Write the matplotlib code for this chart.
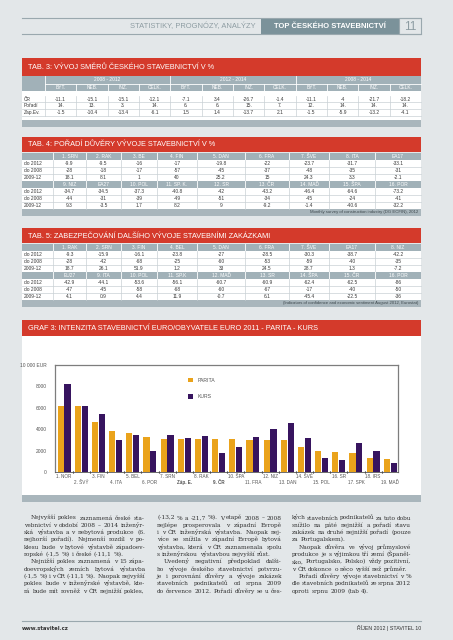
import matplotlib
matplotlib.use('Agg')
import matplotlib.pyplot as plt
from matplotlib.patches import Rectangle
from matplotlib.transforms import blended_transform_factory

W, H, DPI = 453, 640, 100

# ---------------- data ----------------
tab3_title = 'TAB. 3: VÝVOJ SMĚRŮ ČESKÉHO STAVEBNICTVÍ V %'
tab3_periods = ['2008 - 2012', '2012 - 2014', '2008 - 2014']
tab3_cols = ['BYT.', 'NEB.', 'INŽ.', 'CELK.']
tab3_rows = ['ČR', 'Pořadí', 'Zap.Ev.']
tab3_cr = [-11.1, -15.1, -15.1, -12.1, -7.1, 3.4, -26.7, -1.4, -11.1, -4, -21.7, -18.2]
tab3_poradi = [14, 13, 3, 14, 6, 6, 15, 7, 12, 14, 14, 14]
tab3_zapev = [-1.5, -10.4, -13.4, -6.1, 1.5, 1.4, -13.7, 2.1, -1.5, -5.9, -13.2, -4.1]

tab4_title = 'TAB. 4: POŘADÍ DŮVĚRY VÝVOJE STAVEBNICTVÍ V %'
tab4_head1 = ['1. SRN', '2. RAK', '3. BE', '4. FIN', '5. DAN', '6. FRA', '7. ŠVE', '8. ITA', 'EA17']
tab4_do2012_a = [-9.9, -9.5, -16, -17, -19.8, -22, -23.7, -31.7, -33.1]
tab4_do2008_a = [-28, -18, -17, -57, -45, -37, -48, -35, -31]
tab4_diff_a = [18.1, 8.1, 1, 40, 25.2, 15, 24.3, 3.3, -2.1]
tab4_head2 = ['9. NIZ', 'EA27', '10. POL', '11. SP. K.', '12. SR', '13. ČR', '14. MAĎ', '15. ŠPA', '16. POR']
tab4_do2012_b = [-34.7, -34.5, -37.3, -40.8, -42, -43.2, -46.4, -64.6, -73.2]
tab4_do2008_b = [-44, -31, -39, -49, -51, -34, -45, -24, -41]
tab4_diff_b = [9.3, -3.5, 1.7, 8.2, 9, -9.2, -1.4, -40.6, -32.2]
tab4_source = 'Monthly survey of construction industry (DG ECFIN), 2012'

tab5_title = 'TAB. 5: ZABEZPEČOVÁNÍ DALŠÍHO VÝVOJE STAVEBNÍMI ZAKÁZKAMI'
tab5_head1 = ['1. RAK', '2. SRN', '3. FIN', '4. BEL', '5. DAN', '6. FRA', '7. ŠVE', 'EA17', '8. NIZ']
tab5_do2012_a = [-9.3, -15.9, -16.1, -23.8, -27, -28.5, -30.3, -38.7, -42.2]
tab5_do2008_a = [-28, -42, -68, -25, -60, -53, -59, -40, -35]
tab5_diff_a = [18.7, 26.1, 51.9, 1.2, 33, 24.5, 28.7, 1.3, -7.2]
tab5_head2 = ['EU27', '9. ITA', '10. POL', '11. SP.K', '12. MAĎ', '13. SR', '14. ŠPA', '15. ČR', '16. POR']
tab5_do2012_b = [-42.9, -44.1, -53.6, -56.1, -60.7, -60.9, -62.4, -62.5, -86]
tab5_do2008_b = [-47, -45, -58, -68, -60, -67, -17, -40, -50]
tab5_diff_b = [4.1, 0.9, 4.4, 11.9, -0.7, 6.1, -45.4, -22.5, -36]
tab5_source = '(Indicators of confidence and economic sentiment August 2012, Eurostat)'
row_labels = ['do 2012', 'do 2008', '2009-12']

graf_title = 'GRAF 3: INTENZITA STAVEBNICTVÍ EURO/OBYVATELE EURO 2011 - PARITA - KURS'
countries = ['1. NOR', '2. ŠVÝ', '3. FIN', '4. ITA', '5. BEL', '6. POR', '7. SRN', 'Záp. E.',
             '8. RAK', '9. ČR', '10. ŠPA', '11. FRA', '12. NIZ', '13. DAN', '14. ŠVÉ',
             '15. POL', '16. SR', '17. SPK', '18. IRS', '19. MAĎ']
parita = [6200, 6150, 4700, 3850, 3600, 3300, 3100, 3100, 3100, 3100,
          3100, 3000, 3000, 2950, 2350, 2000, 1900, 1800, 1350, 1250]
kurs = [8200, 6200, 5400, 2950, 3450, 2000, 3450, 3200, 3350, 1750,
        2350, 3300, 4050, 4550, 3200, 1300, 1100, 2750, 2000, 850]
bold_countries = ['Záp. E.', '9. ČR']
yticks = [0, 2000, 4000, 6000, 8000, 10000]
ytick_labels = ['0', '2000', '4000', '6000', '8000', '10 000 EUR']

col1_lines = [
    ('Nejvyšší pokles zaznamená české sta-', 'first'),
    ('vebnictví v období 2008 – 2014 inženýr-', ''),
    ('ská výstavba a v nebytová produkce (6.', ''),
    ('nejhorší pořadí). Nejmenší rozdíl v po-', ''),
    ('klesu bude v bytové výstavbě západoev-', ''),
    ('ropské (-1,5 %) i české (-11,1 %).', 'last'),
    ('Nejnižší pokles zaznamená v 15 zápa-', 'first'),
    ('doevropských zemích bytová výstavba', ''),
    ('(-1,5 %) i v ČR (-11,1 %). Naopak nejvyšší', ''),
    ('pokles bude v inženýrské výstavbě, kte-', ''),
    ('rá bude mít rovněž v ČR nejnižší pokles,', ''),
]
col2_lines = [
    ('(-13,2 % a -21,7 %). V etapě 2008 – 2008', ''),
    ('nejlépe prosperovala v západní Evropě', ''),
    ('i v ČR inženýrská výstavba. Naopak nej-', ''),
    ('více se snížila v západní Evropě bytová', ''),
    ('výstavba, která v ČR zaznamenala spolu', ''),
    ('s inženýrskou výstavbou nejvyšší růst.', 'last'),
    ('Uvedený negativní předpoklad dalši-', 'first'),
    ('ho vývoje českého stavebnictví potvrzu-', ''),
    ('je i porovnání důvěry a vývoje zakázek', ''),
    ('stavebních podnikatelů od srpna 2009', ''),
    ('do července 2012. Pořadí důvěry se u čes-', ''),
]
col3_lines = [
    ('kých stavebních podnikatelů za tuto dobu', ''),
    ('snížilo na páté nejnižší a pořadí stavu', ''),
    ('zakázek na druhé nejnižší pořadí (pouze', ''),
    ('za Portugalskem).', 'last'),
    ('Naopak důvěra ve vývoj průmyslové', 'first'),
    ('produkce je s výjimkou tří zemí (Španěl-', ''),
    ('sko, Portugalsko, Polsko) vždy pozitivní,', ''),
    ('v ČR dokonce o něco vyšší než průměr.', 'last'),
    ('Pořadí důvěry vývoje stavebnictví v %', 'first'),
    ('dle stavebních podnikatelů ze srpna 2012', ''),
    ('oproti srpnu 2009 (tab 4).', 'last'),
]

# ---------------- style ----------------
BG = '#e3e7e9'
RED = '#d43a2b'
HDR = '#a1b1b8'
BAR = '#a9b6bc'
DARKBOX = '#7b929a'
ORANGE = '#eaa31b'
PURPLE = '#37145f'
TXT = '#3a3a3a'
LINEC = '#c9d1d5'
NARROW = ['Liberation Sans Narrow', 'Liberation Sans', 'DejaVu Sans']
SERIF = ['DejaVu Serif']

fig = plt.figure(figsize=(W / DPI, H / DPI), dpi=DPI)
fig.patch.set_facecolor(BG)
bg = fig.add_axes([0, 0, 1, 1])
bg.set_xlim(0, W)
bg.set_ylim(H, 0)
bg.axis('off')

X0, X1 = 22, 421


def rect(x0, y0, x1, y1, color, z=1, **kw):
    bg.add_patch(Rectangle((x0, y0), x1 - x0, y1 - y0, facecolor=color,
                           edgecolor='none', zorder=z, **kw))


def txt(x, y, s, size, color=TXT, ha='center', va='center', weight='normal',
        family=NARROW, z=5):
    return bg.text(x, y, s, fontsize=size, color=color, ha=ha, va=va,
                   fontweight=weight, family=family, zorder=z)


def vline(x, y0, y1, color, lw=0.5):
    bg.plot([x, x], [y0, y1], color=color, lw=lw, zorder=3)


def hline(y, x0, x1, color, lw=0.5):
    bg.plot([x0, x1], [y, y], color=color, lw=lw, zorder=3)


def fmt(v):
    return f'{v:g}'


def title_bar(y0, y1, s):
    rect(X0, y0, X1, y1, RED)
    txt(X0 + 6, (y0 + y1) / 2 + 0.5, s, 5.3, color='white', ha='left')


def header_row(y0, y1, edges, labels):
    rect(X0, y0, X1, y1, HDR)
    for e in edges[1:-1]:
        vline(e, y0, y1, 'white', 0.6)
    for i, lab in enumerate(labels):
        txt((edges[i + 1] + edges[i + 2]) / 2, (y0 + y1) / 2 + 0.3, lab, 3.5, color='white')


def data_rows(y0, h, edges, labels, rows):
    n = len(rows)
    rect(X0, y0, X1, y0 + n * h, 'white')
    for r in range(n):
        ya = y0 + r * h
        if r > 0:
            hline(ya, X0, X1, LINEC)
        txt(X0 + 2, ya + h / 2 + 0.3, labels[r], 3.5, ha='left')
        for c, v in enumerate(rows[r]):
            txt((edges[c + 1] + edges[c + 2]) / 2, ya + h / 2 + 0.3, v, 3.5)
    for e in edges[1:-1]:
        vline(e, y0, y0 + n * h, LINEC)


# ---------------- page header ----------------
hline(18, X0, X1, '#9aa8ae', 0.8)
hline(34, X0, X1, '#9aa8ae', 0.8)
rect(261, 18, 399, 34, DARKBOX)
bg.add_patch(Rectangle((399, 18), 22, 16, facecolor='none', edgecolor='#9aa8ae', lw=0.8))
txt(256, 26.5, 'STATISTIKY, PROGNÓZY, ANALÝZY', 5.4, color='#8d9ca2', ha='right')
txt(330, 26.5, 'TOP ČESKÉHO STAVEBNICTVÍ', 5.5, color='white', weight='bold')
txt(410, 26.5, '11', 8.5, color='#8d9ca2')

# ---------------- TAB 3 ----------------
t3_edges = [X0, 45] + [45 + (X1 - 45) * k / 12 for k in range(1, 13)]
title_bar(58, 75.5, tab3_title)
rect(X0, 76, X1, 91, HDR)
for k in range(3):
    xa, xb = t3_edges[1 + 4 * k], t3_edges[1 + 4 * (k + 1)]
    txt((xa + xb) / 2, 79.7, tab3_periods[k], 3.5, color='white')
hline(83.5, 45, X1, 'white', 0.6)
vline(45, 76, 91, 'white', 0.6)
for k in range(1, 3):
    vline(t3_edges[1 + 4 * k], 76, 91, 'white', 0.6)
for c in range(12):
    if c % 4:
        vline(t3_edges[c + 1], 83.5, 91, 'white', 0.6)
    txt((t3_edges[c + 1] + t3_edges[c + 2]) / 2, 87.5, tab3_cols[c % 4], 3.5, color='white')
rect(X0, 91, X1, 120, 'white')
t3_data = [[fmt(v) for v in tab3_cr], [f'{v}.' for v in tab3_poradi], [fmt(v) for v in tab3_zapev]]
ry = 95.5
for r in range(3):
    ya = ry + r * 6.7
    if r > 0:
        hline(ya, X0, X1, LINEC)
    txt(X0 + 2, ya + 3.6, tab3_rows[r], 3.5, ha='left')
    for c in range(12):
        txt((t3_edges[c + 1] + t3_edges[c + 2]) / 2, ya + 3.6, t3_data[r][c], 3.5)
hline(ry + 3 * 6.7, X0, X1, LINEC)
for e in t3_edges[1:-1]:
    vline(e, ry, ry + 3 * 6.7, LINEC)
rect(X0, 120, X1, 127, BAR)

# ---------------- TAB 4 / TAB 5 ----------------
t45_edges = [X0, 53, 86, 121, 157, 197, 245, 289, 329, 375, X1]


def tab45(top, title, h1, a, h2, b, source):
    title_bar(top, top + 15, title)
    y = top + 15.5
    header_row(y, y + 7, t45_edges, h1)
    y += 7
    data_rows(y, 7, t45_edges, row_labels, a)
    y += 21
    header_row(y, y + 7, t45_edges, h2)
    y += 7
    data_rows(y, 7, t45_edges, row_labels, b)
    y += 21
    rect(X0, y, X1, y + 7, BAR)
    txt(X1 - 3, y + 3.8, source, 3.1, color='#3f4a4f', ha='right')


tab45(137, tab4_title, tab4_head1,
      [[fmt(v) for v in tab4_do2012_a], [fmt(v) for v in tab4_do2008_a], [fmt(v) for v in tab4_diff_a]],
      tab4_head2,
      [[fmt(v) for v in tab4_do2012_b], [fmt(v) for v in tab4_do2008_b], [fmt(v) for v in tab4_diff_b]],
      tab4_source)
tab45(228, tab5_title, tab5_head1,
      [[fmt(v) for v in tab5_do2012_a], [fmt(v) for v in tab5_do2008_a], [fmt(v) for v in tab5_diff_a]],
      tab5_head2,
      [[fmt(v) for v in tab5_do2012_b], [fmt(v) for v in tab5_do2008_b], [fmt(v) for v in tab5_diff_b]],
      tab5_source)

# ---------------- GRAF 3 ----------------
title_bar(320, 336, graf_title)
rect(X0, 336, X1, 495, 'white')
rect(X0, 495, X1, 502, BAR)

AL, AR, AT, AB = 55, 398, 365, 472
ax = fig.add_axes([AL / W, 1 - AB / H, (AR - AL) / W, (AB - AT) / H])
ax.set_facecolor('none')
x = list(range(len(countries)))
bw = 0.36
ax.bar([i - 0.2 for i in x], parita, width=bw, color=ORANGE, label='PARITA', zorder=3)
ax.bar([i + 0.2 for i in x], kurs, width=bw, color=PURPLE, label='KURS', zorder=3)
ax.set_xlim(-0.53, len(countries) - 0.55)
ax.set_ylim(0, 10000)
ax.set_yticks(yticks)
ax.set_yticklabels(ytick_labels, fontsize=3.5, color='#555555', family=NARROW)
ax.tick_params(axis='y', length=0, pad=6)
ax.set_xticks([i - 0.5 for i in x[1:]])
ax.set_xticklabels([])
ax.tick_params(axis='x', length=1.5, width=0.8, color='#222222', direction='inout')
for s in ['left', 'top', 'right']:
    ax.spines[s].set_color('#7d7d7d')
    ax.spines[s].set_linewidth(0.9)
ax.spines['bottom'].set_color('#555555')
ax.spines['bottom'].set_linewidth(0.6)
trans = blended_transform_factory(ax.transData, ax.transAxes)
for i, c in enumerate(countries):
    yy = -0.045 if i % 2 == 0 else -0.095
    ax.text(i, yy, c, transform=trans, fontsize=3.3, color='#555555', ha='center', va='center',
            family=NARROW, fontweight='bold' if c in bold_countries else 'normal')
leg = ax.legend(loc='upper left', bbox_to_anchor=((186 - AL) / (AR - AL), 1 - (376 - AT) / (AB - AT)),
                frameon=False, fontsize=3.7, handlelength=0.9, handleheight=0.9,
                labelspacing=2.2, handletextpad=0.9, borderaxespad=0)
for t in leg.get_texts():
    t.set_color('#555555')
    t.set_family(NARROW)

# ---------------- body text (justified) ----------------
fig.canvas.draw()
renderer = fig.canvas.get_renderer()
FS0 = 5.0


def word_width(w, fs):
    t = bg.text(0, 0, w, fontsize=fs, family=SERIF)
    bb = t.get_window_extent(renderer)
    t.remove()
    return bb.width


cols = [(col1_lines, 24, 145), (col2_lines, 157, 282), (col3_lines, 292, 411)]
# font size chosen so a typical justified line fits its column with normal spacing
ratios = []
for lines, xa, xb in cols:
    for line, flag in lines:
        if flag == 'last':
            continue
        nat = word_width(line, FS0) + (6.5 if flag == 'first' else 0)
        ratios.append(nat / (xb - xa))
ratios.sort()
FS = FS0 / ratios[int(0.8 * (len(ratios) - 1))]
space_w = word_width('a a', FS) - word_width('aa', FS)


def column(lines, x0, x1, y0, pitch=7.33, indent=6.5):
    for k, (line, flag) in enumerate(lines):
        y = y0 + k * pitch
        xs = x0 + (indent if flag == 'first' else 0)
        words = line.split(' ')
        ws = [word_width(w, FS) for w in words]
        if flag == 'last' or len(words) == 1:
            gap = space_w
        else:
            gap = max((x1 - xs - sum(ws)) / (len(words) - 1), 0.45 * space_w)
        xc = xs
        for w, wd in zip(words, ws):
            bg.text(xc, y, w, fontsize=FS, family=SERIF, color='#2e2e2e', ha='left', va='baseline')
            xc += wd + gap


for lines, xa, xb in cols:
    column(lines, xa, xb, 519.5)

# ---------------- footer ----------------
hline(621, X0, X1, '#9aa8ae', 0.8)
txt(X0, 628, 'www.stavitel.cz', 3.8, color='#333333', ha='left', weight='bold', family=['DejaVu Sans'])
txt(X1, 628, 'ŘÍJEN 2012 | STAVITEL 10', 3.8, color='#333333', ha='right', family=NARROW)

fig.savefig('out.png', dpi=DPI, facecolor=BG)
